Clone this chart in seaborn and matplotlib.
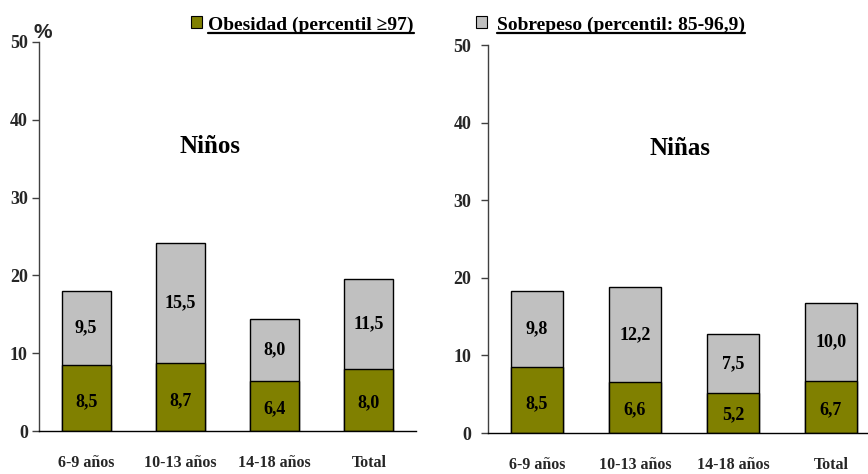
import numpy as np
import pandas as pd
import matplotlib
matplotlib.use("Agg")
import matplotlib.pyplot as plt
from matplotlib.lines import Line2D
from matplotlib.patches import Rectangle
import seaborn as sns

# Prevalence (%) by age group
grupos = ["6-9 años", "10-13 años", "14-18 años", "Total"]
obesidad_ninos = [8.5, 8.7, 6.4, 8.0]
sobrepeso_ninos = [9.5, 15.5, 8.0, 11.5]
obesidad_ninas = [8.5, 6.6, 5.2, 6.7]
sobrepeso_ninas = [9.8, 12.2, 7.5, 10.0]
yticks = [0, 10, 20, 30, 40, 50]

OLIVA = "#808000"
GRIS = "#C0C0C0"
SERIF = "Liberation Serif"

sns.set_theme(style="white")
plt.rcParams["font.family"] = [SERIF, "DejaVu Serif"]

df = pd.DataFrame({
    "grupo": grupos * 2,
    "sexo": ["Niños"] * 4 + ["Niñas"] * 4,
    "obesidad": obesidad_ninos + obesidad_ninas,
    "sobrepeso": sobrepeso_ninos + sobrepeso_ninas,
})
df["total"] = df["obesidad"] + df["sobrepeso"]

fig = plt.figure(figsize=(8.68, 4.74), dpi=100)
W, H = 868, 474


def axes_px(x0, x1, y_top, y_bot):
    return fig.add_axes([x0 / W, 1 - y_bot / H, (x1 - x0) / W, (y_bot - y_top) / H])


ax_l = axes_px(39, 416, 42, 431)
ax_r = axes_px(488, 880, 45, 433)


def fmt(v):
    return f"{v:.1f}".replace(".", ",")


def draw_panel(ax, sexo, width, title, title_x, ypad):
    d = df[df["sexo"] == sexo]
    sns.barplot(data=d, x="grupo", y="total", color=GRIS, saturation=1,
                width=width, edgecolor="black", linewidth=1, errorbar=None, ax=ax)
    sns.barplot(data=d, x="grupo", y="obesidad", color=OLIVA, saturation=1,
                width=width, edgecolor="black", linewidth=1, errorbar=None, ax=ax)
    for i, (o, s) in enumerate(zip(d["obesidad"], d["sobrepeso"])):
        ax.text(i, o * 0.45, fmt(o), ha="center", va="center",
                fontsize=13, fontweight="bold", color="black")
        ax.text(i, o + s / 2, fmt(s), ha="center", va="center",
                fontsize=13, fontweight="bold", color="black")
    ax.set_xlim(-0.5, 3.5)
    ax.set_ylim(0, 50)
    ax.set_yticks(yticks)
    ax.set_yticklabels([str(t) for t in yticks], fontsize=13, fontweight="bold")
    ax.set_xticks(range(4))
    ax.set_xticklabels(grupos, fontsize=11.5, fontweight="bold")
    ax.set_xticks(np.arange(-0.5, 4, 1), minor=True)
    ax.tick_params(axis="x", which="major", length=0, pad=17)
    ax.tick_params(axis="x", which="minor", length=6, width=1, color="black",
                   direction="out")
    ax.tick_params(axis="y", length=5, width=1, color="#404040", direction="out",
                   pad=ypad, left=True)
    ax.set_xlabel("")
    ax.set_ylabel("")
    for sp in ["top", "right"]:
        ax.spines[sp].set_visible(False)
    ax.spines["left"].set_color("#404040")
    ax.spines["bottom"].set_color("black")
    ax.spines["left"].set_linewidth(1)
    ax.spines["bottom"].set_linewidth(1)
    ax.set_facecolor("white")
    ax.text(title_x, 36.6, title, ha="center", va="center", fontsize=18,
            fontweight="bold", color="black")


draw_panel(ax_l, "Niños", 0.52, "Niños", 1.31, 3)
draw_panel(ax_r, "Niñas", 0.53, "Niñas", 1.46, 7)

fig.text(33 / W, 1 - 38 / H, "%", fontsize=15, fontweight="bold",
         family=["Liberation Sans", "DejaVu Sans"], ha="left", va="baseline")

# Legend entries with underlined labels
entradas = [
    (OLIVA, "Obesidad (percentil ≥97)", 191, 208),
    (GRIS, "Sobrepeso (percentil: 85-96,9)", 476, 497),
]
textos = []
for color, label, px, tx in entradas:
    fig.patches.append(Rectangle((px / W, 1 - 28 / H), 11 / W, 12 / H,
                                 transform=fig.transFigure, facecolor=color,
                                 edgecolor="black", linewidth=0.8))
    t = fig.text(tx / W, 1 - 30 / H, label, fontsize=14, fontweight="bold",
                 ha="left", va="baseline", color="black")
    textos.append(t)

fig.canvas.draw()
renderer = fig.canvas.get_renderer()
for t in textos:
    bb = t.get_window_extent(renderer)
    y = 1 - 33 / H
    fig.add_artist(Line2D([bb.x0 / W, bb.x1 / W], [y, y], transform=fig.transFigure,
                          color="black", linewidth=1.6))

fig.savefig("out.png", dpi=100, facecolor="white")
